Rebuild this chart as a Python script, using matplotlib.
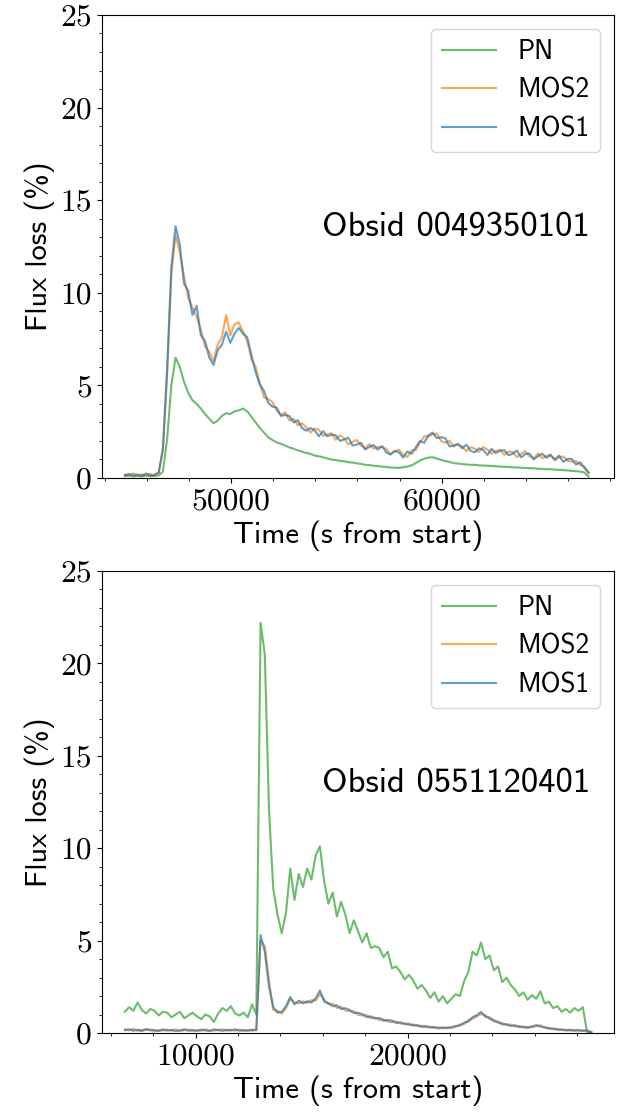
import numpy as np
import matplotlib
matplotlib.use("Agg")
import matplotlib.pyplot as plt
from matplotlib.ticker import MultipleLocator

# ---------------- data ----------------
# Panel 1: Obsid 0049350101, time samples every 200 s
t1_start, t1_step, t1_n = 44970, 200, 111
pn_1 = [0.10, 0.12, 0.08, 0.11, 0.09, 0.12, 0.10, 0.11, 0.14, 0.35,
        2.1, 5.0, 6.5, 6.0, 5.2, 4.6, 4.2, 4.0, 3.75, 3.45,
        3.2, 2.95, 3.1, 3.35, 3.5, 3.45, 3.6, 3.65, 3.75, 3.6,
        3.3, 3.0, 2.7, 2.45, 2.2, 2.05, 1.92, 1.85, 1.75, 1.65,
        1.58, 1.49, 1.42, 1.35, 1.3, 1.21, 1.17, 1.12, 1.05, 0.99,
        0.97, 0.92, 0.9, 0.85, 0.83, 0.79, 0.76, 0.71, 0.7, 0.66,
        0.64, 0.61, 0.6, 0.56, 0.56, 0.54, 0.58, 0.61, 0.68, 0.8,
        0.94, 1.04, 1.1, 1.12, 1.05, 0.98, 0.91, 0.87, 0.8, 0.78,
        0.75, 0.73, 0.71, 0.71, 0.68, 0.67, 0.66, 0.65, 0.63, 0.62,
        0.6, 0.6, 0.57, 0.57, 0.55, 0.54, 0.53, 0.52, 0.5, 0.49,
        0.47, 0.47, 0.45, 0.44, 0.42, 0.41, 0.38, 0.37, 0.34, 0.3, 0.08]
mos2_1 = [0.18, 0.14, 0.25, 0.12, 0.2, 0.15, 0.22, 0.1, 0.28, 1.5,
          5.6, 11.0, 13.1, 12.2, 10.9, 9.7, 9.2, 8.7, 8.0, 7.1,
          6.8, 6.3, 7.2, 7.6, 8.8, 7.7, 8.3, 8.4, 7.9, 7.4,
          6.4, 6.0, 5.1, 4.35, 4.25, 4.1, 3.65, 3.4, 3.55, 3.1,
          3.2, 2.85, 2.95, 2.75, 2.45, 2.67, 2.6, 2.28, 2.35, 2.43,
          2.06, 2.3, 2.13, 1.82, 1.95, 2.05, 1.75, 1.59, 1.83, 1.58,
          1.68, 1.67, 1.58, 1.27, 1.42, 1.53, 1.25, 1.13, 1.5, 1.5,
          1.9, 2.25, 2.25, 2.35, 2.4, 2.0, 1.9, 2.0, 1.7, 1.8,
          1.7, 1.45, 1.67, 1.58, 1.4, 1.67, 1.54, 1.32, 1.45, 1.52,
          1.25, 1.43, 1.4, 1.13, 1.31, 1.44, 1.17, 1.05, 1.33, 1.06,
          1.19, 1.27, 0.95, 1.11, 1.17, 0.93, 0.88, 0.92, 0.7, 0.62, 0.25]
mos1_1 = [0.15, 0.22, 0.12, 0.19, 0.10, 0.24, 0.13, 0.17, 0.30, 1.6,
          5.9, 11.4, 13.6, 12.6, 10.5, 10.1, 8.8, 9.3, 7.7, 7.4,
          6.5, 6.1, 6.9, 7.2, 7.9, 7.3, 7.8, 8.1, 7.8, 7.6,
          6.65, 5.7, 5.05, 4.7, 4.05, 3.85, 3.8, 3.35, 3.4, 3.35,
          3.0, 3.12, 2.7, 2.55, 2.7, 2.57, 2.25, 2.53, 2.25, 2.33,
          2.31, 2.0, 2.08, 2.17, 1.75, 1.8, 1.9, 1.54, 1.68, 1.78,
          1.53, 1.72, 1.38, 1.27, 1.47, 1.38, 1.1, 1.43, 1.3, 1.65,
          2.0, 1.9, 2.3, 2.45, 2.15, 2.2, 2.15, 1.7, 1.75, 1.85,
          1.6, 1.8, 1.47, 1.38, 1.6, 1.52, 1.24, 1.57, 1.35, 1.47,
          1.5, 1.23, 1.3, 1.48, 1.11, 1.29, 1.32, 1.0, 1.18, 1.31,
          1.09, 1.22, 1.0, 1.21, 0.87, 1.03, 1.03, 0.72, 0.85, 0.55, 0.3]

# Panel 2: Obsid 0551120401, time samples every 200 s
t2_start, t2_step, t2_n = 6660, 200, 111
pn_2 = [1.15, 1.4, 1.2, 1.65, 1.25, 1.05, 1.3, 1.2, 0.95, 1.15,
        1.1, 0.85, 1.0, 1.15, 0.8, 0.95, 1.1, 0.9, 0.75, 1.0,
        0.9, 0.6, 1.05, 1.35, 1.2, 1.45, 1.05, 0.95, 1.1, 0.85,
        1.55, 1.0, 22.2, 20.5, 12.0, 7.8, 6.4, 5.4, 6.5, 8.9,
        7.2, 8.6, 7.9, 8.9, 8.3, 9.6, 10.1, 8.2, 7.0, 7.6,
        6.3, 7.1, 6.4, 5.4, 6.1, 5.5, 4.9, 5.4, 4.6, 4.7,
        4.6, 4.1, 4.4, 3.5, 3.6, 3.3, 2.9, 3.15, 2.85, 2.4,
        2.6, 2.3, 1.9, 2.2, 1.7, 2.0, 1.6, 1.85, 2.1, 2.0,
        2.8, 3.3, 4.4, 4.2, 4.9, 4.0, 4.2, 3.4, 3.6, 2.75,
        3.0, 2.6, 2.35, 2.0, 2.2, 1.8, 2.05, 1.85, 2.25, 1.6,
        1.7, 1.35, 1.45, 1.15, 1.3, 1.1, 1.35, 1.2, 1.4, 0.05, 0.02]
mos2_2 = [0.2, 0.14, 0.22, 0.12, 0.18, 0.15, 0.2, 0.1, 0.17, 0.13,
          0.18, 0.12, 0.2, 0.1, 0.14, 0.19, 0.11, 0.17, 0.12, 0.2,
          0.15, 0.12, 0.18, 0.2, 0.12, 0.17, 0.12, 0.18, 0.1, 0.17,
          0.12, 0.18, 5.0, 4.7, 2.8, 1.25, 1.2, 1.05, 1.35, 1.85,
          1.65, 1.6, 1.72, 1.62, 1.78, 1.75, 2.1, 1.82, 1.55, 1.58,
          1.36, 1.42, 1.22, 1.17, 1.18, 0.98, 0.95, 0.98, 0.8, 0.84,
          0.7, 0.75, 0.62, 0.58, 0.63, 0.5, 0.54, 0.42, 0.47, 0.36,
          0.4, 0.3, 0.35, 0.27, 0.31, 0.24, 0.31, 0.27, 0.33, 0.46,
          0.48, 0.7, 0.76, 0.9, 1.02, 0.97, 0.75, 0.72, 0.54, 0.55,
          0.42, 0.46, 0.34, 0.38, 0.29, 0.34, 0.3, 0.38, 0.42, 0.27,
          0.28, 0.19, 0.23, 0.15, 0.19, 0.12, 0.17, 0.12, 0.16, 0.12, 0.03]
mos1_2 = [0.15, 0.2, 0.12, 0.18, 0.1, 0.22, 0.14, 0.16, 0.1, 0.2,
          0.13, 0.17, 0.1, 0.15, 0.2, 0.12, 0.16, 0.11, 0.18, 0.14,
          0.1, 0.2, 0.15, 0.12, 0.18, 0.14, 0.2, 0.13, 0.16, 0.12,
          0.18, 0.15, 5.3, 4.4, 2.5, 1.4, 1.1, 1.15, 1.45, 1.95,
          1.55, 1.75, 1.6, 1.72, 1.65, 1.88, 2.3, 1.7, 1.62, 1.45,
          1.5, 1.3, 1.34, 1.25, 1.08, 1.1, 1.02, 0.86, 0.9, 0.78,
          0.82, 0.66, 0.7, 0.67, 0.54, 0.58, 0.47, 0.5, 0.4, 0.43,
          0.33, 0.38, 0.29, 0.33, 0.25, 0.3, 0.26, 0.32, 0.38, 0.4,
          0.56, 0.62, 0.86, 0.96, 1.14, 0.88, 0.84, 0.64, 0.62, 0.46,
          0.48, 0.38, 0.42, 0.32, 0.35, 0.27, 0.36, 0.42, 0.35, 0.32,
          0.24, 0.25, 0.17, 0.2, 0.13, 0.18, 0.12, 0.16, 0.11, 0.14, 0.05]

series_labels = ["PN", "MOS2", "MOS1"]
obsids = ["Obsid 0049350101", "Obsid 0551120401"]
xlims = [(43863, 68178), (5566, 29731)]

# ---------------- figure ----------------
fig = plt.figure(figsize=(6.28, 11.17), dpi=100)
ax1 = fig.add_axes([0.1619, 0.5721, 0.8158, 0.4145])
ax2 = fig.add_axes([0.1619, 0.0752, 0.8158, 0.4136])

t1 = t1_start + t1_step * np.arange(t1_n)
t2 = t2_start + t2_step * np.arange(t2_n)

colors = ["C2", "C1", "C0"]
panels = [(ax1, t1, [pn_1, mos2_1, mos1_1]), (ax2, t2, [pn_2, mos2_2, mos1_2])]

sans = "cmss10"
serif = "cmr10"

for k, (ax, t, ys) in enumerate(panels):
    for y, c, lab in zip(ys, colors, series_labels):
        ax.plot(t, y, color=c, alpha=0.7, lw=1.5, label=lab)
    ax.set_xlim(*xlims[k])
    ax.set_ylim(0, 25)
    ax.xaxis.set_major_locator(MultipleLocator(10000))
    ax.xaxis.set_minor_locator(MultipleLocator(2000))
    ax.yaxis.set_major_locator(MultipleLocator(5))
    ax.yaxis.set_minor_locator(MultipleLocator(1))
    for lbl in ax.get_xticklabels() + ax.get_yticklabels():
        lbl.set_fontfamily(serif)
        lbl.set_fontsize(22.7)
    ax.set_xlabel("Time (s from start)", fontfamily=sans, fontsize=22)
    ax.set_ylabel("Flux loss (%)", fontfamily=sans, fontsize=22)
    ax.text(0.953, 0.54, obsids[k], transform=ax.transAxes, ha="right",
            va="center", fontfamily=sans, fontsize=25)
    ax.legend(loc="upper right", prop={"family": sans, "size": 19.5})

fig.savefig("out.png", dpi=100)
